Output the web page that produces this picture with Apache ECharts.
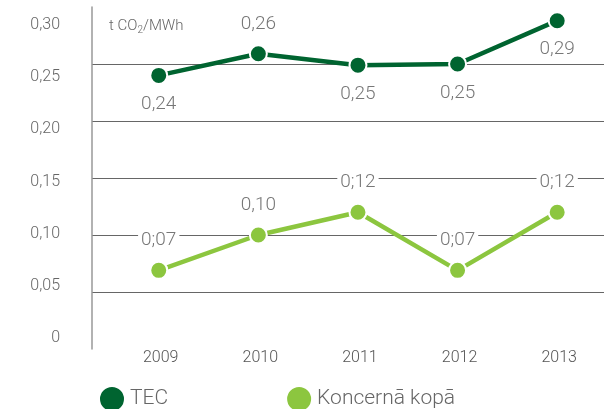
<!DOCTYPE html>
<html>
<head>
<meta charset="utf-8">
<script src="https://cdn.jsdelivr.net/npm/echarts@6/dist/echarts.min.js"></script>
<style>
    html, body { margin: 0; padding: 0; background: #fff; }
    #chart { width: 604px; height: 409px; }
</style>
</head>
<body>
<div id="chart"></div>
<script>
const years = [2009, 2010, 2011, 2012, 2013];
const tecValues = [0.240, 0.259, 0.249, 0.250, 0.288];
const tecLabels = ['0,24', '0,26', '0,25', '0,25', '0,29'];
const tecLabelPos = ['bottom', 'top', 'bottom', 'bottom', 'bottom'];
const koncValues = [0.069, 0.100, 0.120, 0.069, 0.120];
const koncLabels = ['0;07', '0,10', '0;12', '0;07', '0;12'];
const yTicks = [0, 0.05, 0.10, 0.15, 0.20, 0.25, 0.30];
const gridTicks = [0.05, 0.10, 0.15, 0.20, 0.25];

const FONT = 'Roboto';
const TEXT = '#666';

const fmt = v => (v === 0 ? '0' : v.toFixed(2).replace('.', ','));

const buildData = (values, labels, positions) => values.map((v, i) => ({
    value: [years[i], v],
    label: {
        formatter: labels[i],
        position: positions ? positions[i] : 'top',
    },
}));

const chart = echarts.init(document.getElementById('chart'));
const option = {
    backgroundColor: '#fff',
    animation: false,
    textStyle: { fontFamily: FONT },
    title: {
        left: 104,
        top: 12,
        text: 't CO{sub|2}/MWh',
        textStyle: {
            fontSize: 15,
            fontWeight: 300,
            color: TEXT,
            rich: {
                sub: { fontSize: 10, fontWeight: 300, color: TEXT, verticalAlign: 'bottom', padding: [8, 0, 0, 0] },
            },
        },
    },
    legend: {
        left: 93,
        top: 380,
        icon: 'circle',
        itemWidth: 26,
        itemHeight: 26,
        itemGap: 117,
        textStyle: { fontSize: 21, fontWeight: 300, color: TEXT, padding: [0, 0, 0, 0] },
        data: ['TEC', 'Koncernā kopā'],
    },
    grid: [
        { left: 92, right: 0, top: 7, bottom: 60 },
        { left: 92, right: 0, top: 25, bottom: 71 },
    ],
    xAxis: [
        {
            gridIndex: 0,
            type: 'value',
            min: 2008.33,
            max: 2013.47,
            axisLine: { show: false },
            axisTick: { show: false },
            splitLine: { show: false },
            axisLabel: {
                customValues: years,
                margin: 1,
                fontSize: 16,
                fontWeight: 300,
                color: '#555',
                padding: [0, 0, 0, 4],
                formatter: v => String(v),
            },
        },
        {
            gridIndex: 1,
            type: 'value',
            show: false,
            min: 0,
            max: 1,
        },
    ],
    yAxis: [
        {
            gridIndex: 0,
            type: 'value',
            min: 0,
            max: 0.30,
            axisLine: { show: true, lineStyle: { color: '#999', width: 1.5 } },
            axisTick: { show: false, customValues: gridTicks },
            axisLabel: { show: false },
            splitLine: { show: true, lineStyle: { color: '#666', width: 1 } },
        },
        {
            gridIndex: 1,
            type: 'value',
            min: 0,
            max: 0.30,
            interval: 0.05,
            axisLine: { show: false },
            axisTick: { show: false },
            splitLine: { show: false },
            axisLabel: {
                customValues: yTicks,
                margin: 32,
                fontSize: 16,
                fontWeight: 300,
                color: TEXT,
                formatter: fmt,
            },
        },
    ],
    series: [
        {
            name: 'TEC',
            type: 'line',
            xAxisIndex: 0,
            yAxisIndex: 0,
            symbol: 'circle',
            symbolSize: 17,
            color: '#006430',
            lineStyle: { width: 4.5, color: '#006430' },
            itemStyle: { color: '#006430', borderColor: '#fff', borderWidth: 2 },
            label: {
                show: true,
                distance: 10,
                fontSize: 19,
                fontWeight: 300,
                color: '#777',
            },
            data: buildData(tecValues, tecLabels, tecLabelPos),
        },
        {
            name: 'Koncernā kopā',
            type: 'line',
            xAxisIndex: 0,
            yAxisIndex: 0,
            symbol: 'circle',
            symbolSize: 17,
            color: '#8cc63f',
            lineStyle: { width: 4.5, color: '#8cc63f' },
            itemStyle: { color: '#8cc63f', borderColor: '#fff', borderWidth: 2 },
            label: {
                show: true,
                distance: 11,
                fontSize: 19,
                fontWeight: 300,
                color: '#777',
                backgroundColor: '#fff',
                padding: [0, 3],
            },
            data: buildData(koncValues, koncLabels),
        },
    ],
};
chart.setOption(option);
window.addEventListener('resize', () => {
    chart.resize();
});
</script>
</body>
</html>
